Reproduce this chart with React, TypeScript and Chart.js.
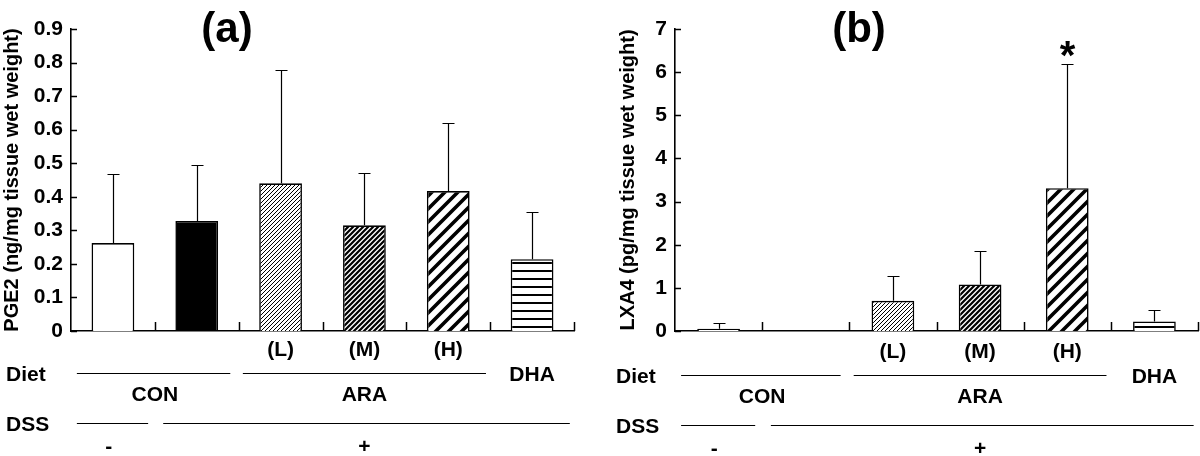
import React, { useEffect, useRef } from 'react';
import { Chart, registerables } from 'chart.js';

Chart.register(...registerables);

// ---------- data ----------
const categories = ['CON DSS-', 'CON DSS+', 'ARA (L)', 'ARA (M)', 'ARA (H)', 'DHA'];
const doseLabels = ['', '', '(L)', '(M)', '(H)', ''];
const fillKinds = ['white', 'black', 'hatchFine', 'hatchDense', 'hatchWide', 'horizontal'];

const pge2Mean = [0.262, 0.328, 0.44, 0.315, 0.417, 0.214];
const pge2Err = [0.206, 0.167, 0.338, 0.155, 0.202, 0.14];
const pge2Marks = ['', '', '', '', '', ''];

const lxa4Mean = [0.05, 0, 0.7, 1.08, 3.31, 0.22];
const lxa4Err = [0.13, 0, 0.57, 0.77, 2.87, 0.27];
const lxa4Marks = ['', '', '', '', '*', ''];

const dietGroups = [
  { label: 'CON', from: -0.43, to: 1.4, at: 0.5 },
  { label: 'ARA', from: 1.55, to: 4.45, at: 3 },
];
const dietSingle = { label: 'DHA', at: 5 };
const dssGroups = [
  { label: '-', from: -0.43, to: 0.42, at: -0.05 },
  { label: '+', from: 0.6, to: 5.45, at: 3 },
];

const FONT = "'Liberation Sans', Arial, Helvetica, sans-serif";

function makeFill(kind: string): string | CanvasPattern {
  if (kind === 'white') return '#ffffff';
  if (kind === 'black') return '#000000';
  const c = document.createElement('canvas');
  const ctx = c.getContext('2d') as CanvasRenderingContext2D;
  if (kind === 'horizontal') {
    c.width = 8;
    c.height = 8;
    ctx.fillStyle = '#fff';
    ctx.fillRect(0, 0, 8, 8);
    ctx.fillStyle = '#000';
    ctx.fillRect(0, 6, 8, 2);
    return ctx.createPattern(c, 'repeat') as CanvasPattern;
  }
  let s = 4;
  let lw = 1.0;
  if (kind === 'hatchDense') {
    s = 5;
    lw = 2.2;
  }
  if (kind === 'hatchWide') {
    s = 13;
    lw = 3.6;
  }
  c.width = s;
  c.height = s;
  ctx.fillStyle = '#fff';
  ctx.fillRect(0, 0, s, s);
  ctx.strokeStyle = '#000';
  ctx.lineWidth = lw;
  ctx.beginPath();
  ctx.moveTo(-s, s);
  ctx.lineTo(s, -s);
  ctx.moveTo(0, s);
  ctx.lineTo(s, 0);
  ctx.moveTo(0, 2 * s);
  ctx.lineTo(2 * s, 0);
  ctx.stroke();
  return ctx.createPattern(c, 'repeat') as CanvasPattern;
}

interface PanelProps {
  means: number[];
  errs: number[];
  marks: string[];
  yMax: number;
  yStep: number;
  decimals: number;
  yTitle: string;
  letter: string;
  letterX: number;
  padLeft: number;
  padRight: number;
  yWidth: number;
  tickPad: number;
  barPct: number;
  labelX: number;
  rowShift: number;
}

function Panel(p: PanelProps) {
  const ref = useRef<HTMLCanvasElement | null>(null);
  useEffect(() => {
    const canvas = ref.current;
    if (!canvas) return;
    const fills = fillKinds.map(makeFill);

    const annot = {
      id: 'annot',
      afterDraw(chart: any) {
        const { ctx, chartArea } = chart;
        const xs = chart.scales.x;
        const ys = chart.scales.y;
        const X = (u: number) => xs.getPixelForValue(u);
        ctx.save();
        ctx.strokeStyle = '#000';
        ctx.fillStyle = '#000';
        // inward y ticks
        ctx.lineWidth = 1.5;
        ctx.beginPath();
        ys.ticks.forEach((t: any) => {
          const y = Math.round(ys.getPixelForValue(t.value)) + 0.5;
          ctx.moveTo(chartArea.left, y);
          ctx.lineTo(chartArea.left + 6, y);
        });
        // inward x boundary ticks
        for (let i = 1; i <= categories.length; i++) {
          const x = Math.round(X(i - 0.5)) + 0.5;
          ctx.moveTo(x, chartArea.bottom);
          ctx.lineTo(x, chartArea.bottom - 9);
        }
        ctx.stroke();
        // error bars
        ctx.lineWidth = 1.2;
        p.means.forEach((m, i) => {
          const e = p.errs[i];
          if (!e) return;
          const x = Math.round(X(i)) + 0.5;
          const y0 = ys.getPixelForValue(m);
          const y1 = Math.round(ys.getPixelForValue(m + e)) + 0.5;
          ctx.beginPath();
          ctx.moveTo(x, y0);
          ctx.lineTo(x, y1);
          ctx.moveTo(x - 6, y1);
          ctx.lineTo(x + 6, y1);
          ctx.stroke();
          if (p.marks[i]) {
            ctx.font = `bold 40px ${FONT}`;
            ctx.textAlign = 'center';
            ctx.textBaseline = 'alphabetic';
            ctx.fillText(p.marks[i], x, y1 + 4);
          }
        });
        // panel letter
        ctx.font = `bold 42px ${FONT}`;
        ctx.textAlign = 'center';
        ctx.textBaseline = 'middle';
        ctx.fillText(p.letter, p.letterX, 30);
        // bottom annotation rows
        const r = p.rowShift;
        ctx.font = `bold 21px ${FONT}`;
        ctx.textBaseline = 'middle';
        ctx.textAlign = 'center';
        doseLabels.forEach((d, i) => {
          if (d) ctx.fillText(d, X(i), 350 + r);
        });
        ctx.textAlign = 'left';
        ctx.fillText('Diet', p.labelX, 375 + r);
        ctx.fillText('DSS', p.labelX, 425 + r);
        ctx.textAlign = 'center';
        ctx.lineWidth = 1.2;
        dietGroups.forEach((g) => {
          ctx.beginPath();
          ctx.moveTo(X(g.from), 373.5 + r);
          ctx.lineTo(X(g.to), 373.5 + r);
          ctx.stroke();
          ctx.fillText(g.label, X(g.at), 395 + r);
        });
        ctx.fillText(dietSingle.label, X(dietSingle.at), 375 + r);
        dssGroups.forEach((g) => {
          ctx.beginPath();
          ctx.moveTo(X(g.from), 423.5 + r);
          ctx.lineTo(X(g.to), 423.5 + r);
          ctx.stroke();
          ctx.fillText(g.label, X(g.at), 447 + r);
        });
        ctx.restore();
      },
    };

    const chart = new Chart(canvas, {
      type: 'bar',
      data: {
        labels: categories,
        datasets: [
          {
            data: p.means,
            backgroundColor: fills as any,
            borderColor: '#000',
            borderWidth: 1.6,
            borderSkipped: 'bottom',
            categoryPercentage: 1,
            barPercentage: p.barPct,
          },
        ],
      },
      options: {
        animation: false,
        responsive: false,
        maintainAspectRatio: false,
        events: [],
        layout: { padding: { top: 29, right: p.padRight, bottom: 0, left: p.padLeft } },
        plugins: { legend: { display: false }, tooltip: { enabled: false } },
        scales: {
          x: {
            offset: true,
            grid: { display: false, drawTicks: false },
            border: { display: true, color: '#000', width: 1.6 },
            ticks: { display: false },
            afterFit: (s: any) => {
              s.height = 125;
            },
          },
          y: {
            min: 0,
            max: p.yMax,
            grid: { display: false, drawTicks: false },
            border: { display: true, color: '#000', width: 1.6 },
            ticks: {
              stepSize: p.yStep,
              color: '#000',
              padding: p.tickPad,
              font: { family: FONT, weight: 'bold', size: 21 },
              callback: (v: any) => (Number(v) === 0 ? '0' : Number(v).toFixed(p.decimals)),
            },
            title: {
              display: true,
              text: p.yTitle,
              color: '#000',
              padding: { top: 0, bottom: 0 },
              font: { family: FONT, weight: 'bold', size: 20 },
            },
            afterFit: (s: any) => {
              s.width = p.yWidth;
            },
          },
        },
      },
      plugins: [annot],
    } as any);
    return () => chart.destroy();
  }, []);
  return <canvas ref={ref} width={600} height={456} style={{ display: 'block', width: 600, height: 456 }} />;
}

export default function App() {
  return (
    <div
      style={{
        position: 'absolute',
        left: 0,
        top: 0,
        width: 1200,
        height: 456,
        background: '#fff',
        display: 'flex',
      }}
    >
      <Panel
        means={pge2Mean}
        errs={pge2Err}
        marks={pge2Marks}
        yMax={0.9}
        yStep={0.1}
        decimals={1}
        yTitle="PGE2 (ng/mg tissue wet weight)"
        letter="(a)"
        letterX={227}
        padLeft={0}
        padRight={26}
        yWidth={71}
        tickPad={8}
        barPct={0.51}
        labelX={6}
        rowShift={0}
      />
      <Panel
        means={lxa4Mean}
        errs={lxa4Err}
        marks={lxa4Marks}
        yMax={7}
        yStep={1}
        decimals={0}
        yTitle="LXA4 (pg/mg tissue wet weight)"
        letter="(b)"
        letterX={259}
        padLeft={16}
        padRight={2}
        yWidth={59}
        tickPad={8}
        barPct={0.49}
        labelX={16}
        rowShift={2}
      />
    </div>
  );
}
